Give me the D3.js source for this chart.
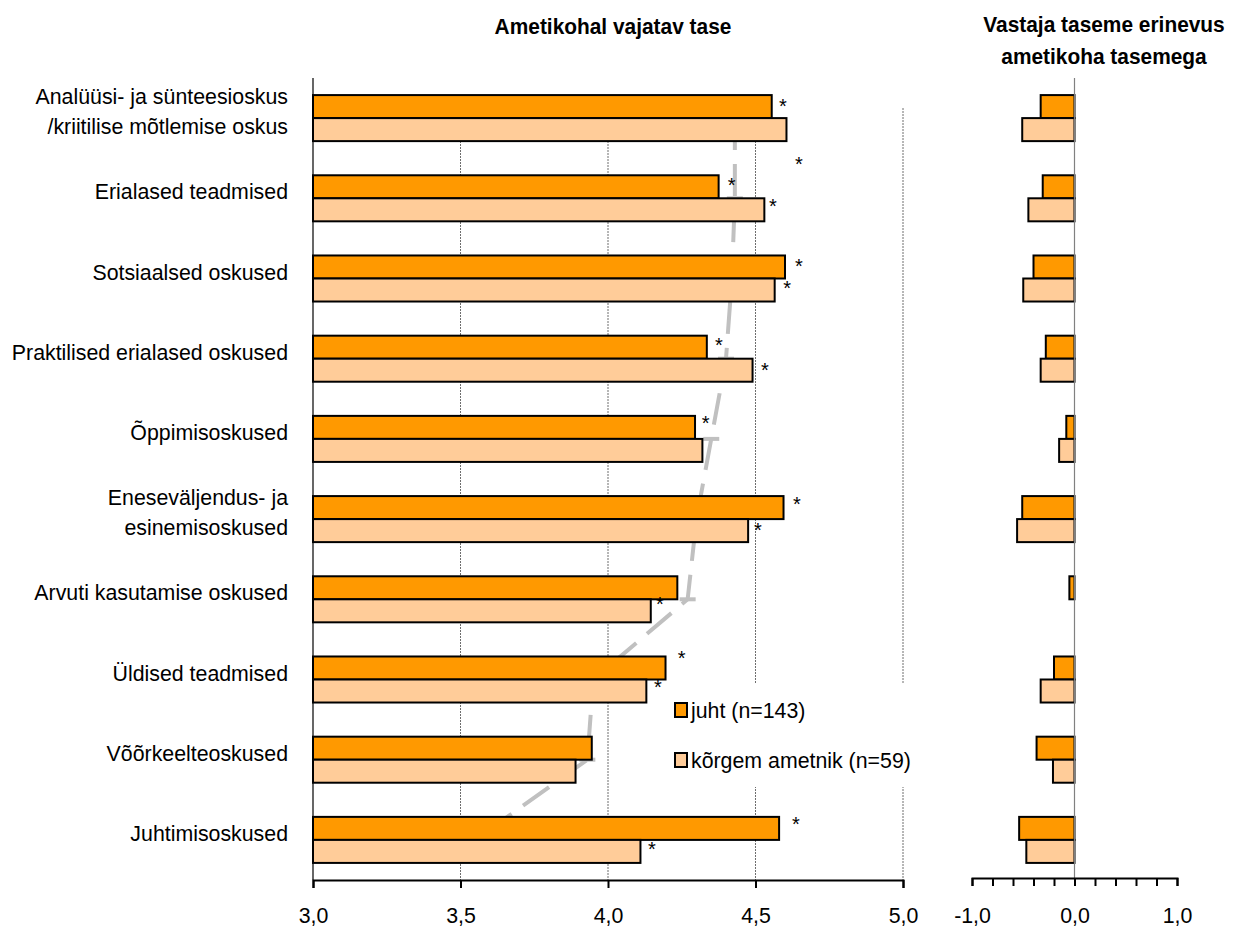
<!DOCTYPE html>
<html><head><meta charset="utf-8">
<script src="https://cdn.jsdelivr.net/npm/d3@7"></script>
<style>
body{margin:0;background:#fff}
svg text{font-family:"Liberation Sans",Arial,sans-serif;fill:#000}
</style>
</head><body>
<svg id="chart" width="1238" height="929"></svg>
<script>
// ---------------- DATA ----------------
const categories = [
  "Analüüsi- ja sünteesioskus\n/kriitilise mõtlemise oskus",
  "Erialased teadmised",
  "Sotsiaalsed oskused",
  "Praktilised erialased oskused",
  "Õppimisoskused",
  "Eneseväljendus- ja\nesinemisoskused",
  "Arvuti kasutamise oskused",
  "Üldised teadmised",
  "Võõrkeelteoskused",
  "Juhtimisoskused"
];
const seriesNames = ["juht (n=143)", "kõrgem ametnik (n=59)"];
const juhtLevel     = [4.555, 4.375, 4.600, 4.335, 4.295, 4.595, 4.235, 4.195, 3.945, 4.580];
const ametnikLevel  = [4.605, 4.530, 4.565, 4.490, 4.320, 4.475, 4.145, 4.130, 3.890, 4.110];
const respondentLevel = [4.43, 4.43, 4.42, 4.40, 4.35, 4.30, 4.27, 3.95, 3.93, 3.55];
const juhtDiff      = [-0.33, -0.31, -0.40, -0.28, -0.08, -0.51, -0.05, -0.20, -0.37, -0.54];
const ametnikDiff   = [-0.51, -0.45, -0.50, -0.33, -0.15, -0.56, 0.00, -0.33, -0.21, -0.47];
// significance markers: value position of "*" (null = none)
const juhtStar      = [4.593, 4.419, 4.647, 4.376, 4.331, 4.640, null, 4.250, null, 4.637];
const ametnikStar   = [4.647, 4.559, 4.607, 4.532, null, 4.508, 4.176, 4.169, null, 4.149];
const levelTicks    = [3.0, 3.5, 4.0, 4.5, 5.0];
const levelGrid     = [3.5, 4.0, 4.5, 5.0];
const diffTicks     = [-1.0, 0.0, 1.0];
const diffMinorTicks = [-1.0, -0.8, -0.6, -0.4, -0.2, 0.0, 0.2, 0.4, 0.6, 0.8, 1.0];
const titleLeft = "Ametikohal vajatav tase";
const titleRight = ["Vastaja taseme erinevus", "ametikoha tasemega"];

// ---------------- LAYOUT / STYLE ----------------
const colors = ["#FF9900", "#FFCC99"];
const FONT = 22, SX = 0.97;           // regular text: size, horizontal squeeze
const TFONT = 22, TSX = 0.95;         // titles
const starNudge = {                   // vertical offset (px) of star centre from bar centre
  juht:    [-4.6, -6, -5, -6.5, -8.4, -7.5, 0, -14, 0, -8.5],
  ametnik: [30, -8, -6, -4.5, 0, -5.5, -11, -8, 0, -6.5]
};
const fmt = v => v.toFixed(1).replace(".", ",");

const svg = d3.select("#chart");
function label(x, yy, txt, o = {}) {
  return svg.append("text")
    .attr("transform", `translate(${x},${yy}) scale(${o.sx || SX},1)`)
    .attr("text-anchor", o.anchor || "start")
    .attr("font-size", o.size || FONT)
    .attr("font-weight", o.weight || "normal")
    .text(txt);
}

const y = d3.scaleBand().domain(d3.range(categories.length))
  .range([78, 880]).paddingInner(0.426).paddingOuter(0.213);
const ySub = d3.scaleBand().domain([0, 1]).range([0, y.bandwidth()]);
const xL = d3.scaleLinear().domain([3, 5]).range([313, 903]);
const xR = d3.scaleLinear().domain([-1, 1]).range([972, 1177]);
const cy = i => y(i) + y.bandwidth() / 2;

// ---- titles
label(613, 34, titleLeft, {anchor: "middle", size: TFONT, sx: TSX, weight: "bold"});
titleRight.forEach((t, k) => label(1104, 32 + k * 32, t, {anchor: "middle", size: TFONT, sx: TSX, weight: "bold"}));

// ---- gridlines (left)
svg.append("g").selectAll("line").data(levelGrid).join("line")
  .attr("x1", d => xL(d)).attr("x2", d => xL(d))
  .attr("y1", 108).attr("y2", 880)
  .attr("stroke", "#6e6e6e").attr("stroke-width", 1).attr("stroke-dasharray", "2,1");

// ---- respondent level line (behind bars)
const lineGen = d3.line().x(d => xL(d[0])).y(d => cy(d[1]));
svg.append("path").datum(respondentLevel.map((v, i) => [v, i]))
  .attr("d", lineGen).attr("fill", "none").attr("stroke", "#C0C0C0")
  .attr("stroke-width", 4).attr("stroke-dasharray", "32,14");
svg.append("g").selectAll("line").data(respondentLevel).join("line")
  .attr("x1", d => xL(d) - 8).attr("x2", d => xL(d) + 8)
  .attr("y1", (d, i) => cy(i)).attr("y2", (d, i) => cy(i))
  .attr("stroke", "#C0C0C0").attr("stroke-width", 4);

// ---- left bars
const leftSeries = [juhtLevel, ametnikLevel];
leftSeries.forEach((vals, s) => {
  svg.append("g").selectAll("rect").data(vals).join("rect")
    .attr("x", xL(3)).attr("width", d => xL(d) - xL(3))
    .attr("y", (d, i) => y(i) + ySub(s)).attr("height", ySub.bandwidth())
    .attr("fill", colors[s]).attr("stroke", "#000").attr("stroke-width", 2);
});

// ---- right bars
const rightSeries = [juhtDiff, ametnikDiff];
rightSeries.forEach((vals, s) => {
  svg.append("g").selectAll("rect").data(vals.map((v, i) => [v, i]).filter(d => d[0] !== 0)).join("rect")
    .attr("x", d => xR(Math.min(0, d[0]))).attr("width", d => Math.abs(xR(d[0]) - xR(0)))
    .attr("y", d => y(d[1]) + ySub(s)).attr("height", ySub.bandwidth())
    .attr("fill", colors[s]).attr("stroke", "#000").attr("stroke-width", 2);
});

// ---- left axes
svg.append("line").attr("x1", xL(3)).attr("x2", xL(3)).attr("y1", 78).attr("y2", 880)
  .attr("stroke", "#000").attr("stroke-width", 1.2);
const axL = svg.append("g").attr("transform", "translate(0,880)")
  .call(d3.axisBottom(xL).tickValues(levelTicks).tickFormat(fmt).tickSize(8).tickPadding(19));
axL.select(".domain").attr("stroke", "#000").attr("stroke-width", 2);
axL.selectAll(".tick line").attr("stroke", "#000").attr("stroke-width", 2);
axL.selectAll(".tick text").attr("font-size", FONT).attr("font-family", "Liberation Sans, Arial, sans-serif")
  .attr("fill", "#000").attr("transform", `scale(${SX},1)`);

// ---- right axes
svg.append("line").attr("x1", xR(0)).attr("x2", xR(0)).attr("y1", 78).attr("y2", 878)
  .attr("stroke", "#808080").attr("stroke-width", 1.2);
const axR = svg.append("g").attr("transform", "translate(0,878)")
  .call(d3.axisBottom(xR).tickValues(diffMinorTicks)
    .tickFormat(v => diffTicks.some(t => Math.abs(t - v) < 1e-9) ? fmt(v) : "")
    .tickSize(8).tickPadding(21));
axR.select(".domain").attr("stroke", "#000").attr("stroke-width", 2);
axR.selectAll(".tick line").attr("stroke", "#000").attr("stroke-width", 2);
axR.selectAll(".tick text").attr("font-size", FONT).attr("font-family", "Liberation Sans, Arial, sans-serif")
  .attr("fill", "#000").attr("transform", `scale(${SX},1)`);

// ---- category labels
categories.forEach((c, i) => {
  const lines = c.split("\n");
  lines.forEach((ln, k) => {
    label(288, cy(i) + 1 + (k - (lines.length - 1) / 2) * 30, ln, {anchor: "end"});
  });
});

// ---- significance stars
const starFont = 20;
[[juhtStar, starNudge.juht, 0], [ametnikStar, starNudge.ametnik, 1]].forEach(([arr, nud, s]) => {
  svg.append("g").selectAll("text").data(arr.map((v, i) => [v, i]).filter(d => d[0] !== null)).join("text")
    .attr("x", d => xL(d[0])).attr("text-anchor", "middle").attr("font-size", starFont)
    .attr("y", d => y(d[1]) + ySub(s) + ySub.bandwidth() / 2 + nud[d[1]] + starFont * 0.57)
    .text("*");
});

// ---- legend
svg.append("rect").attr("x", 665).attr("y", 684).attr("width", 252).attr("height", 103).attr("fill", "#fff");
seriesNames.forEach((n, s) => {
  svg.append("rect").attr("x", 675).attr("y", 703 + s * 50).attr("width", 12).attr("height", 14)
    .attr("fill", colors[s]).attr("stroke", "#000").attr("stroke-width", 2);
  label(691, 718 + s * 50, n);
});
</script>
</body></html>
